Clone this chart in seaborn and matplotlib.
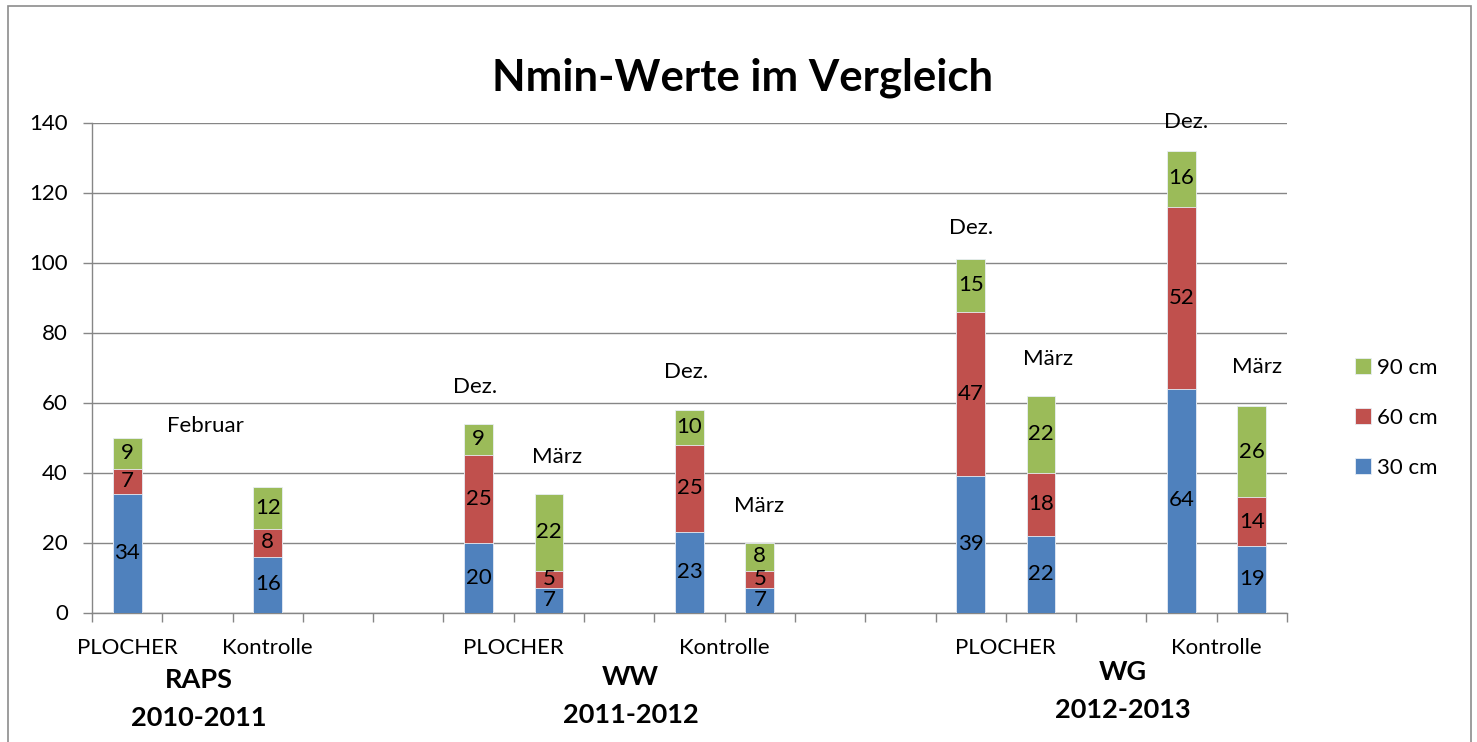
import numpy as np
import pandas as pd
import matplotlib
matplotlib.use("Agg")
import matplotlib.pyplot as plt
import matplotlib.patches as mpatches
import seaborn as sb

# values (N-min, kg/ha per soil layer)
slot = [0, 2, 5, 6, 8, 9, 12, 13, 15, 16]          # category slot of each bar on the axis
cm30 = [34, 16, 20, 7, 23, 7, 39, 22, 64, 19]
cm60 = [7, 8, 25, 5, 25, 5, 47, 18, 52, 14]
cm90 = [9, 12, 9, 22, 10, 8, 15, 22, 16, 26]

cat_labels = ["PLOCHER", "Kontrolle", "PLOCHER", "Kontrolle", "PLOCHER", "Kontrolle"]
cat_pos = [0, 2, 5.5, 8.5, 12.5, 15.5]
groups = ["RAPS", "WW", "WG"]
years = ["2010-2011", "2011-2012", "2012-2013"]

months = ["Februar", "Dez.", "März", "Dez.", "März", "Dez.", "März", "Dez.", "März"]
month_xy = [(1.11, 53.3), (4.95, 64.4), (6.12, 44.5), (7.95, 68.6), (8.99, 30.5),
            (12.0, 109.8), (13.1, 72.3), (15.06, 140.0), (16.08, 70.2)]

df = pd.DataFrame({"slot": slot, "cm30": cm30, "cm60": cm60, "cm90": cm90})
df["c60"] = df["cm30"] + df["cm60"]
df["c90"] = df["c60"] + df["cm90"]

blue, red, green = "#4F81BD", "#C0504D", "#9BBB59"
grey = "#868686"

sb.set_style("white")
plt.rcParams["font.family"] = ["Lato", "DejaVu Sans"]
plt.rcParams["text.color"] = "black"
plt.rcParams["xtick.labelcolor"] = "black"
plt.rcParams["ytick.labelcolor"] = "black"
fs = 16

fig = plt.figure(figsize=(14.77, 7.42), dpi=100)
ax = fig.add_axes([92 / 1477, 1 - 612.5 / 742, 1195 / 1477, 490 / 742])

# stacked bars: draw cumulative totals back to front
sb.barplot(data=df, x="slot", y="c90", color=green, saturation=1, width=0.41,
           native_scale=True, errorbar=None, label="90 cm", ax=ax, zorder=3)
sb.barplot(data=df, x="slot", y="c60", color=red, saturation=1, width=0.41,
           native_scale=True, errorbar=None, label="60 cm", ax=ax, zorder=3)
sb.barplot(data=df, x="slot", y="cm30", color=blue, saturation=1, width=0.41,
           native_scale=True, errorbar=None, label="30 cm", ax=ax, zorder=3)
if ax.get_legend() is not None:
    ax.get_legend().remove()
for p in ax.patches:
    p.set_edgecolor("#e8eef5")
    p.set_linewidth(0.6)

# value labels in the middle of each segment
for _, r in df.iterrows():
    ax.text(r["slot"], r["cm30"] / 2, str(int(r["cm30"])), ha="center", va="center", fontsize=fs, zorder=4)
    ax.text(r["slot"], r["cm30"] + r["cm60"] / 2, str(int(r["cm60"])), ha="center", va="center", fontsize=fs, zorder=4)
    ax.text(r["slot"], r["c60"] + r["cm90"] / 2, str(int(r["cm90"])), ha="center", va="center", fontsize=fs, zorder=4)

for m, (mx, my) in zip(months, month_xy):
    ax.text(mx, my, m, ha="center", va="center", fontsize=fs, zorder=4)

ax.set_xlim(-0.5, 16.5)
ax.set_ylim(0, 140)
ax.set_yticks(np.arange(0, 141, 20))
ax.set_xticks(np.arange(-0.5, 17, 1))
ax.set_xticklabels([])
ax.set_xlabel("")
ax.set_ylabel("")
ax.yaxis.grid(True, color=grey, linewidth=1.0)
ax.set_axisbelow(True)
for s in ["top", "right"]:
    ax.spines[s].set_visible(False)
for s in ["left", "bottom"]:
    ax.spines[s].set_color(grey)
    ax.spines[s].set_linewidth(1.0)
ax.tick_params(axis="both", direction="out", length=6.3, width=1.0, color=grey,
               labelsize=fs, labelcolor="black", left=True, bottom=True)
ax.tick_params(axis="y", pad=11)

tr = ax.get_xaxis_transform()
for lab, p in zip(cat_labels, cat_pos):
    ax.text(p, -0.0724, lab, transform=tr, ha="center", va="center", fontsize=fs)
grp_x = [1.015, 7.16, 14.17]
grp_y = [-0.1378, -0.131, -0.1208]
yr_y = [-0.2153, -0.209, -0.199]
for g, yv, gx, gy, yy in zip(groups, years, grp_x, grp_y, yr_y):
    ax.text(gx, gy, g, transform=tr, ha="center", va="center", fontsize=19.5, fontweight="bold")
    ax.text(gx, yy, yv, transform=tr, ha="center", va="center", fontsize=19.5, fontweight="bold")

fig.text(743 / 1477, 1 - 91 / 742, "Nmin-Werte im Vergleich", ha="center", va="baseline",
         fontsize=31.5, fontweight="bold")

handles, labels = ax.get_legend_handles_labels()
fig.legend(handles, labels, loc="center left", bbox_to_anchor=(1344 / 1477, 1 - 418 / 742),
           frameon=False, fontsize=fs, handlelength=0.7, handleheight=0.7,
           handletextpad=0.3, labelspacing=1.35, borderpad=0)

# chart border
fig.patches.append(mpatches.Rectangle((8 / 1477, -0.05), 1463 / 1477, 1.05 - 6 / 742,
                                      transform=fig.transFigure, fill=False,
                                      edgecolor="#8c8c8c", linewidth=1.2))

fig.savefig("out.png", dpi=100)
